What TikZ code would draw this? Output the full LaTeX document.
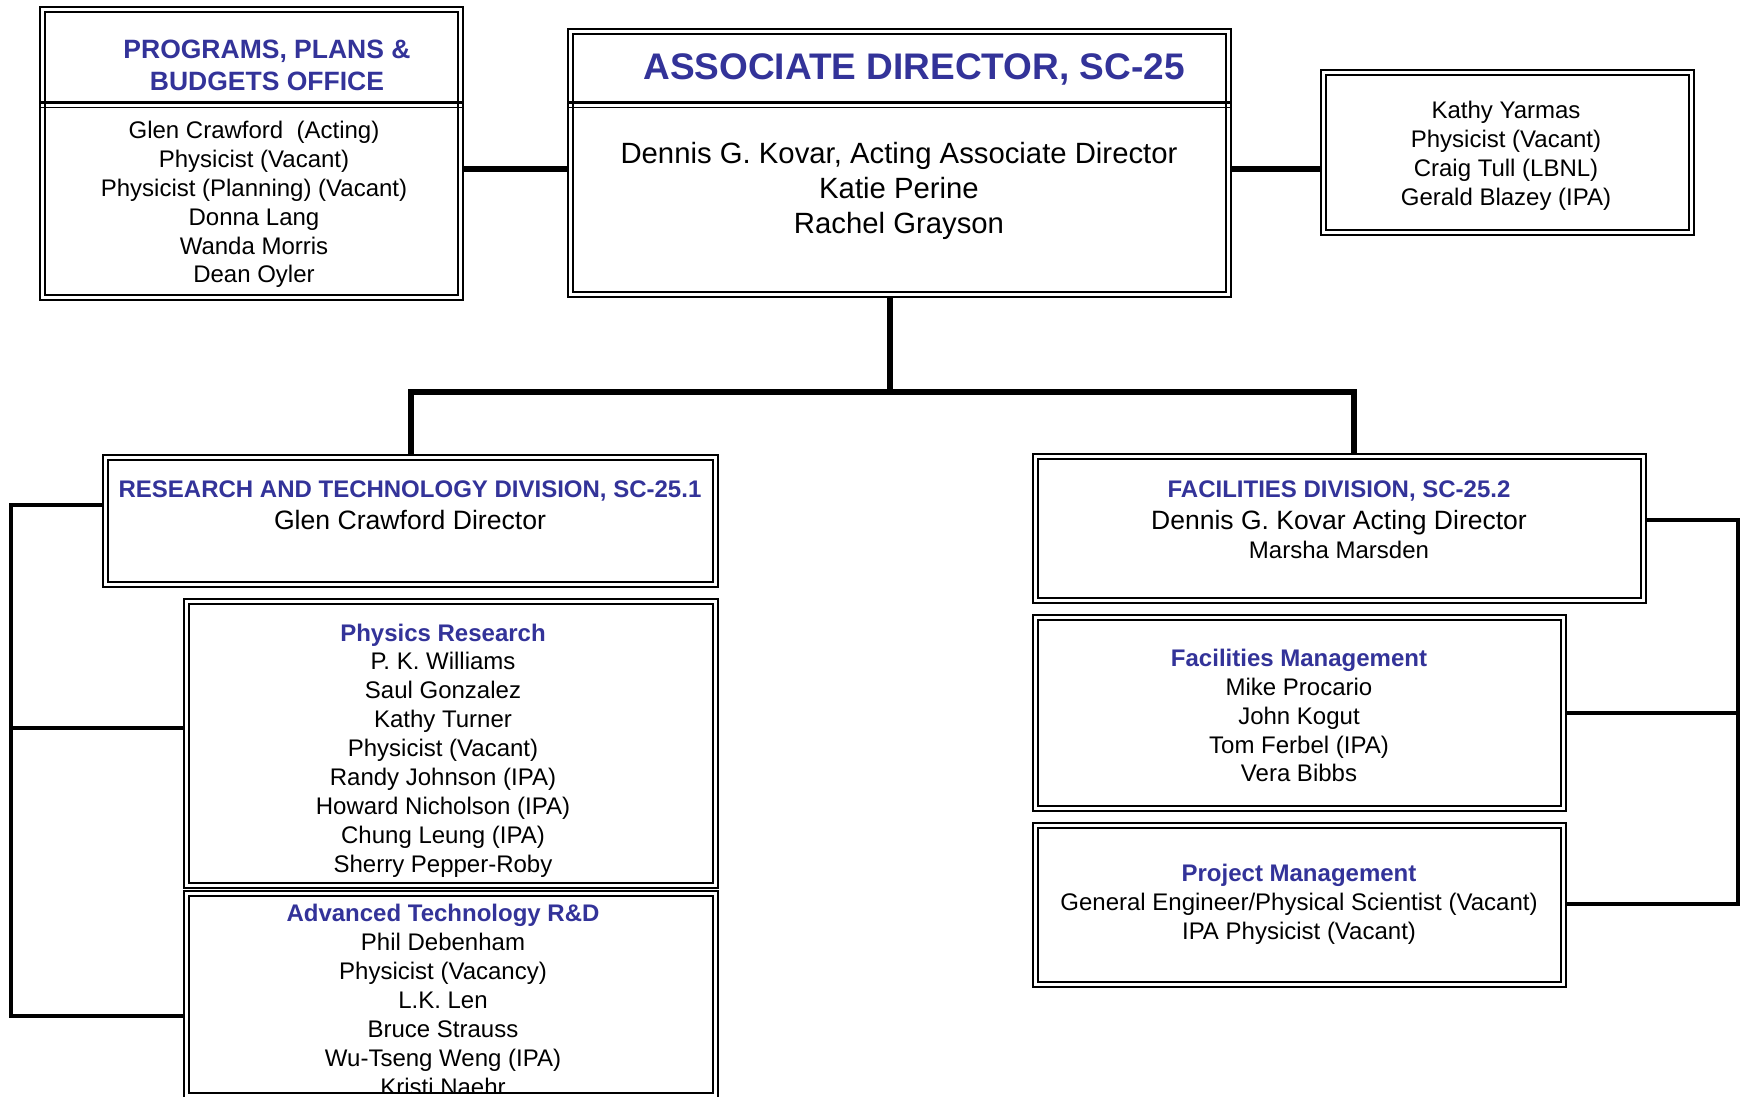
\documentclass[tikz,border=0pt]{standalone}
\usepackage{fontspec}
\setmainfont{Liberation Sans}
\definecolor{titleblue}{RGB}{51,51,153}
\begin{document}
\begin{tikzpicture}[x=1pt,y=-1pt,
  box/.style={draw, line width=2.8pt, fill=white, inner sep=0pt, outer sep=0pt, anchor=north west},
  innerframe/.style={line width=2pt},
  ttlstyle/.style={text=titleblue, inner sep=0pt},
  body/.style={align=center, font=\fontsize{24}{28.9}\selectfont, inner sep=0pt},
  conn/.style={line width=5.6pt, line join=miter},
  brk/.style={line width=3.4pt, line join=miter},
]
\useasboundingbox (0,0) rectangle (1745,1097);

% boxes
\node[box, minimum width=423pt, minimum height=293pt] (ppbo) at (40,7) {};
\node[box, minimum width=663pt, minimum height=268pt] (ad) at (568,29) {};
\node[box, minimum width=373pt, minimum height=165pt] (kathy) at (1321,70) {};
\node[box, minimum width=615pt, minimum height=132pt] (rtd) at (103,455) {};
\node[box, minimum width=534pt, minimum height=289pt] (pr) at (184,599) {};
\node[box, minimum width=534pt, minimum height=207pt] (atrd) at (184,891) {};
\node[box, minimum width=613pt, minimum height=149pt] (fd) at (1033,454) {};
\node[box, minimum width=533pt, minimum height=196pt] (fm) at (1033,615) {};
\node[box, minimum width=533pt, minimum height=164pt] (pm) at (1033,823) {};

\foreach \n in {ppbo,ad,kathy,rtd,pr,atrd,fd,fm,pm}
  \draw[innerframe] ([xshift=5.2pt,yshift=-5.2pt]\n.north west) rectangle ([xshift=-5.2pt,yshift=5.2pt]\n.south east);

% title dividers
\draw[line width=2.6pt] (40,102.5) -- (463,102.5);
\draw[line width=1.8pt] (40,107.5) -- (463,107.5);
\draw[line width=2.6pt] (568,102.5) -- (1231,102.5);
\draw[line width=1.8pt] (568,107.5) -- (1231,107.5);

% connectors
\coordinate (c1) at (0,169);
\draw[conn] (ppbo.east |- c1) -- (ad.west |- c1);
\draw[conn] (ad.east |- c1) -- (kathy.west |- c1);
\coordinate (hub) at (890,392);
\coordinate (hl) at (411,392);
\coordinate (hr) at (1354,392);
\draw[conn] (ad.south -| hub) -- (hub);
\draw[conn] (rtd.north -| hl) -- (hl) -- (hr) -- (fd.north -| hr);

\coordinate (lt) at (11,505);
\coordinate (lm) at (11,728);
\coordinate (lb) at (11,1016);
\draw[brk] (lt -| rtd.west) -- (lt) -- (lb) -- (lb -| atrd.west);
\draw[brk] (lm) -- (lm -| pr.west);

\coordinate (rt) at (1738,520);
\coordinate (rm) at (1738,713);
\coordinate (rb) at (1738,904);
\draw[brk] (rt -| fd.east) -- (rt) -- (rb) -- (rb -| pm.east);
\draw[brk] (rm -| fm.east) -- (rm);

% texts
\node[ttlstyle, align=center, font=\bfseries\fontsize{26.5}{32.2}\selectfont] (ppbot) at (267,65) {PROGRAMS, PLANS \&\\BUDGETS OFFICE};
\node[body] (ppbob) at (254,204.5) {Glen Crawford\ \ (Acting)\\Physicist (Vacant)\\Physicist (Planning) (Vacant)\\Donna Lang\\Wanda Morris\\Dean Oyler};

\node[ttlstyle, anchor=base, font=\bfseries\fontsize{37}{44}\selectfont] (adt) at (914,79.3) {ASSOCIATE DIRECTOR, SC-25};
\node[align=center, inner sep=0pt, font=\fontsize{29.3}{35}\selectfont] (adb) at (899,190.5) {Dennis G. Kovar, Acting Associate Director\\Katie Perine\\Rachel Grayson};

\node[body] (kb) at (1506,156) {Kathy Yarmas\\Physicist (Vacant)\\Craig Tull (LBNL)\\Gerald Blazey (IPA)};

\node[ttlstyle, anchor=base, font=\bfseries\fontsize{24}{29}\selectfont] (rtdt) at (410,497.2) {RESEARCH AND TECHNOLOGY DIVISION, SC-25.1};
\node[anchor=base, inner sep=0pt, font=\fontsize{26.6}{32}\selectfont] (rtdb) at (410,529.3) {Glen Crawford Director};

\node[ttlstyle, anchor=base, font=\bfseries\fontsize{24}{29}\selectfont] (fdt) at (1339,497.2) {FACILITIES DIVISION, SC-25.2};
\node[anchor=base, inner sep=0pt, font=\fontsize{26.5}{32}\selectfont] (fdb1) at (1339,529.2) {Dennis G. Kovar Acting Director};
\node[anchor=base, inner sep=0pt, font=\fontsize{24}{29}\selectfont] (fdb2) at (1339,558.4) {Marsha Marsden};

\node[body] (prb) at (443,750.4) {\textcolor{titleblue}{\bfseries Physics Research}\\P. K. Williams\\Saul Gonzalez\\Kathy Turner\\Physicist (Vacant)\\Randy Johnson (IPA)\\Howard Nicholson (IPA)\\Chung Leung (IPA)\\Sherry Pepper-Roby};

\begin{scope}
\clip ([xshift=6.2pt,yshift=-6.2pt]atrd.north west) rectangle ([xshift=-6.2pt,yshift=6.2pt]atrd.south east);
\node[body] (atrdb) at (443,1000) {\textcolor{titleblue}{\bfseries Advanced Technology R\&D}\\Phil Debenham\\Physicist (Vacancy)\\L.K. Len\\Bruce Strauss\\Wu-Tseng Weng (IPA)\\Kristi Naehr};
\end{scope}

\node[body] (fmb) at (1299,715.6) {\textcolor{titleblue}{\bfseries Facilities Management}\\Mike Procario\\John Kogut\\Tom Ferbel (IPA)\\Vera Bibbs};
\node[body] (pmb) at (1299,904) {\textcolor{titleblue}{\bfseries Project Management}\\General Engineer/Physical Scientist (Vacant)\\IPA Physicist (Vacant)};
\end{tikzpicture}
\end{document}
